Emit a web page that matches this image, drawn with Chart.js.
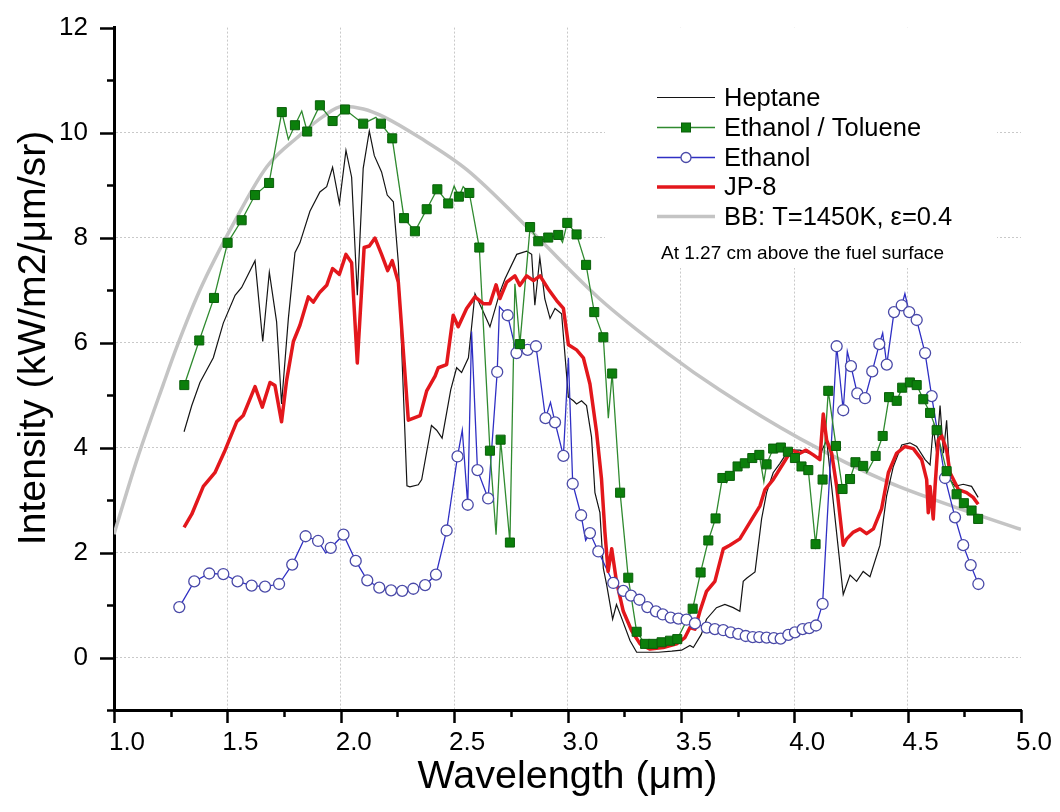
<!DOCTYPE html>
<html><head><meta charset="utf-8">
<script src="https://cdn.jsdelivr.net/npm/chart.js@4/dist/chart.umd.min.js"></script>
<style>html,body{margin:0;padding:0;background:#fff;}#wrap{width:1060px;height:812px;}</style>
</head><body><div id="wrap"><canvas id="c" width="1060" height="812"></canvas></div>
<script>
// ---------- data ----------
const seriesNames = ['Heptane', 'Ethanol / Toluene', 'Ethanol', 'JP-8', 'BB: T=1450K, \u03b5=0.4'];
const noteText = 'At 1.27 cm above the fuel surface';
const xTitleText = 'Wavelength (\u03bcm)';
const yTitleText = 'Intensity (kW/m2/\u03bcm/sr)';

const bbX = [1.0, 1.1, 1.217, 1.28, 1.379, 1.525, 1.674, 1.82, 1.92, 2.01, 2.1, 2.19, 2.35, 2.557, 2.85, 3.14, 3.44, 3.67, 4.025, 4.42, 4.7, 5.0];
const bbY = [2.35, 3.75, 5.2, 5.95, 7.0, 8.25, 9.35, 9.95, 10.3, 10.5, 10.45, 10.3, 9.9, 9.29, 8.08, 6.84, 5.8, 5.1, 4.17, 3.33, 2.88, 2.44];

const heptaneX = [1.309,1.343,1.379,1.438,1.482,1.534,1.563,1.622,1.656,1.685,1.717,1.739,1.769,1.798,1.82,1.864,1.908,1.938,1.964,1.994,2.023,2.048,2.073,2.099,2.126,2.148,2.18,2.205,2.232,2.254,2.292,2.305,2.342,2.357,2.40,2.423,2.447,2.485,2.511,2.533,2.563,2.592,2.629,2.658,2.702,2.724,2.776,2.82,2.842,2.856,2.878,2.90,2.923,2.945,2.974,3.004,3.026,3.04,3.062,3.084,3.106,3.121,3.143,3.158,3.173,3.199,3.216,3.238,3.276,3.305,3.40,3.46,3.503,3.54,3.555,3.59,3.613,3.657,3.694,3.731,3.76,3.775,3.79,3.827,3.856,3.878,3.907,3.937,3.966,3.996,4.025,4.07,4.106,4.143,4.216,4.246,4.275,4.304,4.334,4.378,4.407,4.437,4.474,4.51,4.54,4.577,4.599,4.613,4.628,4.643,4.658,4.672,4.687,4.709,4.745,4.782,4.811];
const heptaneY = [4.30,4.80,5.24,5.71,6.37,6.90,7.05,7.56,6.02,7.34,6.40,4.83,6.46,7.71,7.90,8.50,8.87,8.97,9.34,8.65,9.66,9.15,6.90,9.32,10.03,9.56,9.25,8.81,8.68,7.52,3.27,3.25,3.29,3.39,4.42,4.33,4.18,5.10,5.52,5.43,5.71,6.93,6.58,6.30,6.96,7.21,7.68,7.74,7.68,6.71,7.62,6.83,6.46,6.65,6.55,4.96,4.89,4.83,4.89,4.80,4.20,3.14,2.76,1.70,1.38,0.73,1.01,0.76,0.32,0.10,0.10,0.12,0.14,0.23,0.19,0.44,0.73,0.95,1.01,0.95,0.88,1.45,1.51,1.63,2.64,3.14,3.52,3.70,3.89,3.95,3.95,3.89,3.80,4.14,1.20,1.57,1.45,1.64,1.54,2.14,3.07,3.64,4.05,4.09,4.02,3.77,3.67,4.39,3.90,4.80,3.89,4.52,3.39,3.26,3.30,3.26,3.05];

// Ethanol / Toluene: samples carrying a square marker, and unmarked samples on the line
const ethTolX = [1.31,1.376,1.441,1.501,1.563,1.622,1.684,1.74,1.798,1.852,1.908,1.964,2.019,2.099,2.177,2.227,2.279,2.327,2.379,2.426,2.474,2.521,2.567,2.611,2.658,2.705,2.746,2.79,2.835,2.871,2.915,2.959,2.999,3.04,3.082,3.118,3.158,3.197,3.232,3.268,3.305,3.342,3.378,3.415,3.452,3.484,3.552,3.587,3.621,3.653,3.683,3.716,3.75,3.782,3.815,3.846,3.878,3.907,3.941,3.972,4.003,4.032,4.062,4.094,4.125,4.15,4.184,4.213,4.246,4.27,4.304,4.359,4.39,4.418,4.452,4.476,4.51,4.54,4.569,4.599,4.628,4.672,4.716,4.748,4.782,4.811];
const ethTolY = [5.19,6.04,6.85,7.90,8.33,8.81,9.04,10.39,10.14,10.02,10.52,10.22,10.44,10.17,10.17,9.89,8.37,8.12,8.54,8.92,8.65,8.78,8.85,7.81,3.94,4.15,2.19,5.97,8.20,7.93,8.00,8.05,8.28,8.06,7.48,6.58,6.10,5.41,3.14,1.52,0.49,0.26,0.26,0.29,0.32,0.35,0.93,1.62,2.23,2.65,3.42,3.46,3.64,3.70,3.80,3.86,3.68,3.98,4.00,3.92,3.80,3.64,3.57,2.16,3.39,5.08,4.03,3.21,3.40,3.72,3.65,3.84,4.22,4.96,4.89,5.14,5.24,5.19,4.92,4.66,4.33,3.55,3.11,2.94,2.80,2.64];
const ethTolExtraX = [1.769,1.828,2.155,2.50,2.54,2.685,2.768,2.978,3.18,3.702,3.866,4.32];
const ethTolExtraY = [9.87,10.41,10.29,8.98,8.97,2.34,7.12,7.91,4.56,3.33,3.35,3.52];

// Ethanol: samples carrying a circle marker, and unmarked samples on the line
const ethanolX = [1.288,1.354,1.42,1.482,1.545,1.607,1.666,1.728,1.786,1.845,1.90,1.956,2.012,2.066,2.117,2.17,2.222,2.271,2.32,2.372,2.42,2.467,2.515,2.56,2.603,2.65,2.69,2.736,2.775,2.824,2.861,2.903,2.945,2.982,3.023,3.06,3.099,3.136,3.202,3.246,3.28,3.317,3.352,3.39,3.42,3.455,3.489,3.525,3.562,3.614,3.65,3.687,3.72,3.753,3.786,3.817,3.846,3.878,3.91,3.94,3.974,4.003,4.037,4.066,4.096,4.125,4.187,4.216,4.25,4.278,4.312,4.344,4.375,4.408,4.44,4.474,4.507,4.54,4.577,4.606,4.665,4.709,4.745,4.778,4.812];
const ethanolY = [0.96,1.45,1.60,1.59,1.45,1.37,1.35,1.40,1.77,2.31,2.22,2.09,2.34,1.84,1.47,1.33,1.28,1.27,1.31,1.38,1.58,2.42,3.83,2.91,3.57,3.03,5.44,6.52,5.80,5.86,5.93,4.56,4.48,3.84,3.31,2.71,2.37,2.02,1.42,1.27,1.18,1.10,0.96,0.88,0.82,0.76,0.74,0.72,0.65,0.57,0.54,0.52,0.48,0.45,0.41,0.39,0.39,0.38,0.37,0.36,0.43,0.48,0.54,0.56,0.61,1.02,5.93,4.71,5.55,5.03,4.94,5.45,5.97,5.58,6.58,6.71,6.58,6.43,5.80,4.98,3.42,2.67,2.14,1.76,1.40];
const ethanolExtraX = [1.934,2.536,2.577,2.70,2.925,3.004,3.08,4.234,4.39,4.488];
const ethanolExtraY = [1.99,4.33,6.21,6.68,4.86,5.71,2.23,5.83,6.18,6.93];

const jp8X = [1.309,1.343,1.394,1.445,1.49,1.541,1.57,1.622,1.654,1.688,1.71,1.739,1.761,1.791,1.82,1.857,1.879,1.908,1.938,1.964,1.994,2.023,2.048,2.073,2.103,2.126,2.151,2.18,2.207,2.227,2.254,2.298,2.35,2.379,2.416,2.43,2.467,2.496,2.518,2.555,2.592,2.629,2.658,2.685,2.702,2.732,2.768,2.79,2.82,2.85,2.879,2.915,2.952,2.982,3.004,3.04,3.07,3.099,3.128,3.15,3.165,3.179,3.195,3.216,3.246,3.283,3.32,3.364,3.422,3.481,3.518,3.54,3.562,3.584,3.613,3.65,3.687,3.716,3.76,3.805,3.849,3.871,3.907,3.952,3.988,4.025,4.052,4.084,4.113,4.128,4.143,4.165,4.187,4.216,4.231,4.261,4.29,4.319,4.349,4.385,4.415,4.451,4.488,4.525,4.562,4.584,4.591,4.599,4.613,4.621,4.635,4.65,4.672,4.687,4.724,4.76,4.789,4.811];
const jp8Y = [2.48,2.73,3.26,3.52,3.95,4.49,4.61,5.16,4.77,5.24,5.18,4.49,5.27,6.02,6.33,6.87,6.77,6.96,7.09,7.41,7.30,7.68,7.52,5.61,7.81,7.84,7.99,7.68,7.37,7.56,7.15,4.52,4.61,5.08,5.36,5.52,5.58,6.52,6.30,6.65,6.87,6.74,6.74,7.10,6.84,7.15,7.27,7.09,7.27,7.18,7.27,7.02,6.80,6.65,5.96,5.86,5.71,5.21,4.30,3.40,2.39,1.64,2.07,1.45,0.88,0.51,0.26,0.16,0.19,0.26,0.38,0.57,0.54,0.88,1.26,1.45,2.07,2.14,2.26,2.58,2.89,3.20,3.39,3.70,3.95,3.89,3.95,3.86,3.77,4.64,4.14,3.89,3.26,2.14,2.26,2.39,2.45,2.36,2.45,2.83,3.52,3.89,4.02,3.98,3.77,3.39,2.76,3.26,2.64,3.26,4.14,4.23,3.95,3.52,3.20,3.14,3.05,2.92];

// axis ranges / ticks
const xMin = 1.0, xMax = 5.0, xStep = 0.25;
const yMin = -1, yMax = 12, yStep = 1;

// ---------- helpers ----------
const FONT = "'Liberation Sans', Arial, Helvetica, sans-serif";
const pts = (xs, ys) => xs.map((x, i) => ({x: x, y: ys[i]}));
const merged = (a, b) => a.concat(b).sort((p, q) => p.x - q.x);
function fitSize(text, width) {
  const c = document.createElement('canvas').getContext('2d');
  c.font = '100px ' + FONT;
  return 100 * width / c.measureText(text).width;
}
const xTitleSize = fitSize(xTitleText, 300);
const yTitleSize = fitSize(yTitleText, 415);

const C = {
  black: '#141414', green: '#2f8a2f', greenFill: '#0b7f0b', greenEdge: '#0a5f0a',
  blue: '#2f2fc4', blueEdge: '#4a4aa8', red: '#e3171c', gray: '#c4c4c4', grid: '#c9c9c9'
};

const isMajorX = v => Math.abs(v * 2 - Math.round(v * 2)) < 1e-6;
const isMajorY = v => Math.abs(v % 2) < 1e-6;

// ---------- plugin: legend box, legend, note, y title, tick marks ----------
const decor = {
  id: 'decor',
  beforeDatasetsDraw(chart) {
    const ctx = chart.ctx;
    ctx.save();
    ctx.fillStyle = '#fff';
    ctx.fillRect(605, chart.chartArea.top, 392, 268 - chart.chartArea.top);
    ctx.restore();
  },
  afterDraw(chart) {
    const ctx = chart.ctx;
    const xs = chart.scales.x, ys = chart.scales.y;
    ctx.save();
    // tick marks
    ctx.strokeStyle = '#000';
    ctx.lineWidth = 2.5;
    const axX = chart.chartArea.left, axY = chart.chartArea.bottom;
    for (let v = yMin; v <= yMax + 1e-9; v += yStep) {
      const p = Math.round(ys.getPixelForValue(v)) + 0.5;
      const len = isMajorY(v) ? 14 : 7;
      ctx.beginPath(); ctx.moveTo(axX - len, p); ctx.lineTo(axX, p); ctx.stroke();
    }
    for (let v = xMin; v <= xMax + 1e-9; v += xStep) {
      const p = Math.round(xs.getPixelForValue(v)) + 0.5;
      const len = isMajorX(v) ? 13 : 7;
      ctx.beginPath(); ctx.moveTo(p, axY); ctx.lineTo(p, axY + len); ctx.stroke();
    }
    // y title
    ctx.fillStyle = '#000';
    ctx.font = yTitleSize.toFixed(1) + 'px ' + FONT;
    ctx.textAlign = 'center'; ctx.textBaseline = 'middle';
    ctx.translate(34, 338); ctx.rotate(-Math.PI / 2);
    ctx.fillText(yTitleText, 0, 0);
    ctx.restore();

    // legend
    ctx.save();
    const rows = [97.5, 127.5, 157.5, 187, 216.5];
    const ds = chart.data.datasets;
    const styles = [ds[1], ds[2], ds[4], ds[6], ds[0]];
    const x0 = 657, x1 = 715, xm = 686;
    rows.forEach((ry, i) => {
      const s = styles[i];
      ctx.strokeStyle = s.borderColor; ctx.lineWidth = s.borderWidth;
      ctx.beginPath(); ctx.moveTo(x0, ry); ctx.lineTo(x1, ry); ctx.stroke();
    });
    // legend markers
    ctx.fillStyle = C.greenFill; ctx.strokeStyle = C.greenEdge; ctx.lineWidth = 1;
    ctx.fillRect(xm - 4.5, rows[1] - 4.5, 9, 9); ctx.strokeRect(xm - 4.5, rows[1] - 4.5, 9, 9);
    ctx.fillStyle = '#fff'; ctx.strokeStyle = C.blueEdge; ctx.lineWidth = 1.3;
    ctx.beginPath(); ctx.arc(xm, rows[2], 5, 0, Math.PI * 2); ctx.fill(); ctx.stroke();
    ctx.fillStyle = '#000';
    ctx.font = '25.5px ' + FONT; ctx.textAlign = 'left'; ctx.textBaseline = 'middle';
    seriesNames.forEach((n, i) => ctx.fillText(n, 724, rows[i] + 1));
    ctx.font = '19px ' + FONT;
    ctx.fillText(noteText, 661, 254);
    ctx.restore();
  }
};

const lineBase = {showLine: true, pointRadius: 0, pointHoverRadius: 0, fill: false};

const chart = new Chart(document.getElementById('c'), {
  type: 'scatter',
  data: {
    datasets: [
      Object.assign({}, lineBase, {label: seriesNames[4], data: pts(bbX, bbY), borderColor: C.gray, borderWidth: 3.5, cubicInterpolationMode: 'monotone', order: 10}),
      Object.assign({}, lineBase, {label: seriesNames[0], data: pts(heptaneX, heptaneY), borderColor: C.black, borderWidth: 1.2, order: 9}),
      Object.assign({}, lineBase, {label: seriesNames[1], data: merged(pts(ethTolX, ethTolY), pts(ethTolExtraX, ethTolExtraY)), borderColor: C.green, borderWidth: 1.3, order: 7}),
      {label: seriesNames[1] + ' markers', data: pts(ethTolX, ethTolY), showLine: false, pointStyle: 'rect', pointRadius: 6.4, pointBackgroundColor: C.greenFill, pointBorderColor: C.greenEdge, pointBorderWidth: 1, order: 4},
      Object.assign({}, lineBase, {label: seriesNames[2], data: merged(pts(ethanolX, ethanolY), pts(ethanolExtraX, ethanolExtraY)), borderColor: C.blue, borderWidth: 1.3, order: 8}),
      {label: seriesNames[2] + ' markers', data: pts(ethanolX, ethanolY), showLine: false, pointStyle: 'circle', pointRadius: 5.5, pointBackgroundColor: '#fff', pointBorderColor: C.blueEdge, pointBorderWidth: 1.3, order: 5},
      Object.assign({}, lineBase, {label: seriesNames[3], data: pts(jp8X, jp8Y), borderColor: C.red, borderWidth: 3.5, borderJoinStyle: 'round', order: 6})
    ]
  },
  options: {
    responsive: false, animation: false, devicePixelRatio: 1,
    layout: {padding: {top: 19, right: 39, bottom: 0, left: 0}},
    plugins: {legend: {display: false}, tooltip: {enabled: false}},
    scales: {
      x: {
        type: 'linear', min: xMin, max: xMax,
        afterFit: s => { s.height = 102; },
        ticks: {stepSize: xStep, autoSkip: false, maxRotation: 0, minRotation: 0, padding: 4, labelOffset: 13,
          color: '#000', font: {family: FONT, size: 26},
          callback: v => isMajorX(v) ? v.toFixed(1) : ''},
        grid: {color: c => (c.tick && isMajorX(c.tick.value) && c.tick.value > xMin && c.tick.value < xMax) ? C.grid : 'rgba(0,0,0,0)',
          lineWidth: 1, drawTicks: true, tickLength: 13, tickColor: 'rgba(0,0,0,0)'},
        border: {display: true, color: '#000', width: 3, dash: [2, 2]},
        title: {display: true, text: xTitleText, color: '#000', font: {family: FONT, size: xTitleSize, lineHeight: 1.2},
          padding: {top: 0, bottom: Math.max(0, 35 - xTitleSize * 0.6)}}
      },
      y: {
        type: 'linear', min: yMin, max: yMax,
        afterFit: s => { s.width = 114; },
        ticks: {stepSize: yStep, autoSkip: false, padding: 12, color: '#000', font: {family: FONT, size: 26},
          callback: v => isMajorY(v) ? String(v) : ''},
        grid: {color: c => (c.tick && isMajorY(c.tick.value) && c.tick.value >= 0 && c.tick.value <= 10) ? C.grid : 'rgba(0,0,0,0)',
          lineWidth: 1, drawTicks: true, tickLength: 14, tickColor: 'rgba(0,0,0,0)'},
        border: {display: true, color: '#000', width: 3, dash: [2, 2]}
      }
    }
  },
  plugins: [decor]
});
</script>
</body></html>
